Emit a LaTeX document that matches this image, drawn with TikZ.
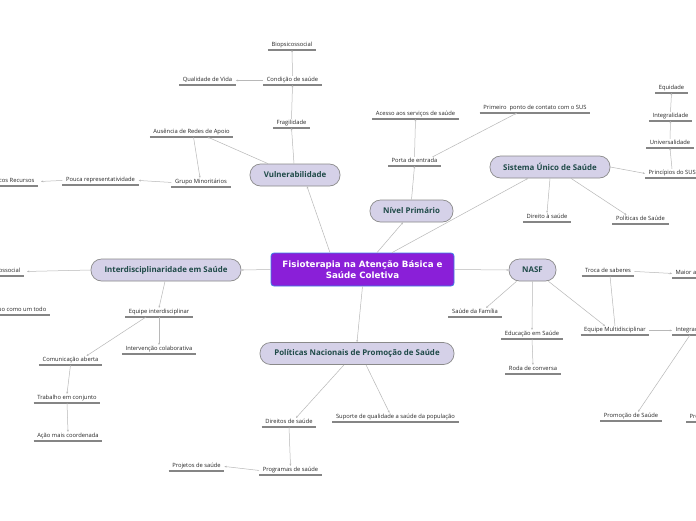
\documentclass[tikz,border=0pt]{standalone}
\usepackage{fontspec}
\setmainfont{Open Sans}
\newfontfamily\cenfont{DejaVu Sans}
\usetikzlibrary{arrows.meta}
\definecolor{cenfill}{HTML}{8A1FD8}
\definecolor{cenline}{HTML}{3D7FE6}
\definecolor{topfill}{HTML}{D5D1E8}
\definecolor{topline}{HTML}{8A8A8A}
\definecolor{toptext}{HTML}{1F4A48}
\definecolor{connc}{HTML}{B8B8B8}
\definecolor{ulc}{HTML}{858585}
\tikzset{
  central/.style={draw=cenline, line width=0.8pt, fill=cenfill, rounded corners=3pt,
    minimum width=183pt, minimum height=33pt, align=center, text=white,
    font=\cenfont\bfseries\fontsize{8.7}{11}\selectfont},
  topic/.style={draw=topline, line width=0.7pt, fill=topfill, rounded corners=10.5pt,
    minimum height=22pt, text=toptext, font=\bfseries\fontsize{7.9}{9}\selectfont, inner xsep=2pt},
  uline/.style={draw=ulc, line width=1.2pt},
  leaf/.style={font=\fontsize{5.8}{6.5}\selectfont, text=black!85, inner xsep=3.5pt, inner ysep=1.6pt,
    text height=4.2pt, text depth=1.3pt,
    append after command={(\tikzlastnode.south west) edge[uline] (\tikzlastnode.south east)}},
  conn/.style={draw=connc, line width=0.5pt, -{Stealth[length=2.2pt,width=1.8pt]}},
  plain/.style={draw=connc, line width=0.5pt}
}
\begin{document}
\begin{tikzpicture}[x=1pt, y=-1pt]
\useasboundingbox[fill=white] (0,0) rectangle (696,520);

% central
\node[central] (cen) at (362.5,269.5) {Fisioterapia na Atenção Básica e\\Saúde Coletiva};

% topics
\node[topic, minimum width=90pt] (vul) at (295,175) {Vulnerabilidade};
\node[topic, minimum width=83pt] (niv) at (411.5,211) {Nível Primário};
\node[topic, minimum width=120pt] (sus) at (550,167) {Sistema Único de Saúde};
\node[topic, minimum width=150pt] (int) at (166,270) {Interdisciplinaridade em Saúde};
\node[topic, minimum width=47pt] (nasf) at (532.5,270) {NASF};
\node[topic, minimum width=194pt] (pol) at (357,353.5) {Políticas Nacionais de Promoção de Saúde};

% Vulnerabilidade leaves
\node[leaf, anchor=south] (bio) at (292,50) {Biopsicossocial};
\node[leaf, anchor=south] (cond) at (292.5,85) {Condição de saúde};
\node[leaf, anchor=south] (qual) at (207.5,85) {Qualidade de Vida};
\node[leaf, anchor=south] (frag) at (291.5,128) {Fragilidade};
\node[leaf, anchor=south] (aus) at (191.5,137) {Ausência de Redes de Apoio};
\node[leaf, anchor=south] (grupo) at (201,187) {Grupo Minoritários};
\node[leaf, anchor=south] (pouca) at (100.5,185) {Pouca representatividade};
\node[leaf, anchor=south east] (rec) at (38,186) {Poucos Recursos};

% Nivel Primario leaves
\node[leaf, anchor=south] (porta) at (414.5,166) {Porta de entrada};
\node[leaf, anchor=south] (aces) at (415.5,119) {Acesso aos serviços de saúde};
\node[leaf, anchor=south] (prim) at (535,113) {Primeiro\ \ ponto de contato com o SUS};

% SUS leaves
\node[leaf, anchor=south] (dir) at (547,222) {Direito à saúde};
\node[leaf, anchor=south] (pols) at (640.5,224) {Políticas de Saúde};
\node[leaf, anchor=south west] (princ) at (645,178) {Princípios do SUS};
\node[leaf, anchor=south] (univ) at (670,148) {Universalidade};
\node[leaf, anchor=south] (integ) at (670.5,121) {Integralidade};
\node[leaf, anchor=south] (equi) at (671.5,93) {Equidade};

% Interdisciplinaridade leaves
\node[leaf, anchor=south east] (bio2) at (24,276) {Biopsicossocial};
\node[leaf, anchor=south east] (todo) at (50,315) {Visão do indivíduo como um todo};
\node[leaf, anchor=south] (eqi) at (159,317) {Equipe interdisciplinar};
\node[leaf, anchor=south] (interv) at (159,354) {Intervenção colaborativa};
\node[leaf, anchor=south] (comu) at (70.5,365) {Comunicação aberta};
\node[leaf, anchor=south] (trab) at (67,403) {Trabalho em conjunto};
\node[leaf, anchor=south] (acao) at (68,441) {Ação mais coordenada};

% NASF leaves
\node[leaf, anchor=south] (sfam) at (475,317) {Saúde da Família};
\node[leaf, anchor=south] (educ) at (532,339) {Educação em Saúde};
\node[leaf, anchor=south] (roda) at (533,374) {Roda de conversa};
\node[leaf, anchor=south] (eqm) at (615,335) {Equipe Multidisciplinar};
\node[leaf, anchor=south] (troca) at (608,276) {Troca de saberes};
\node[leaf, anchor=south west] (maior) at (672,278) {Maior aprendizado};
\node[leaf, anchor=south west] (integra) at (672,335) {Integração};
\node[leaf, anchor=south] (promo) at (631,421) {Promoção de Saúde};
\node[leaf, anchor=south west] (prev) at (686,422) {Prevenção};

% Politicas leaves
\node[leaf, anchor=south] (dirs) at (289,427) {Direitos de saúde};
\node[leaf, anchor=south] (sup) at (395.5,422) {Suporte de qualidade a saúde da população};
\node[leaf, anchor=south] (prog) at (290.5,475) {Programas de saúde};
\node[leaf, anchor=south] (proj) at (196.5,471) {Projetos de saúde};

% central connectors
\draw[conn] ([xshift=-32.5pt]cen.north) -- ([xshift=12pt]vul.south);
\draw[conn] ([xshift=14.5pt]cen.north) -- ([xshift=-8.5pt]niv.south);
\draw[conn] ([xshift=29.5pt]cen.north) -- ([xshift=-22pt]sus.south);
\draw[conn] (cen.west) -- (int.east);
\draw[conn] (cen.east) -- (nasf.west);
\draw[conn] (cen.south) -- (pol.north);

% Vulnerabilidade
\draw[conn] ([xshift=-1pt]vul.north) -- (frag.south);
\draw[conn] ([xshift=-27pt]vul.north) -- ([xshift=16pt]aus.south);
\draw[conn] ([xshift=2pt]aus.south) -- ([xshift=-1pt]grupo.north);
\draw[conn] (frag.north) -- (cond.south);
\draw[conn] (cond.north) -- (bio.south);
\draw[conn] (cond.west) -- (qual.east);
\draw[conn] (grupo.west) -- (pouca.east);
\draw[conn] (pouca.west) -- ([xshift=3pt]rec.east);

% Nivel
\draw[conn] (niv.north) -- (porta.south);
\draw[conn] (porta.north) -- (aces.south);
\draw[conn] ([xshift=18pt]porta.north) -- ([xshift=-18pt]prim.south);

% SUS
\draw[conn] (sus.south) -- (dir.north);
\draw[conn] ([xshift=21pt]sus.south) -- ([xshift=-14pt]pols.north);
\draw[conn] (sus.east) -- (princ.west);
\draw[conn] ([xshift=27pt]princ.north west) -- (univ.south);
\draw[conn] (univ.north) -- (integ.south);
\draw[conn] (integ.north) -- (equi.south);

% Interdisciplinaridade
\draw[conn] (int.west) -- ([xshift=3pt]bio2.east);
\draw[conn] ([xshift=-1pt]int.south) -- (eqi.north);
\draw[conn] (eqi.south) -- (interv.north);
\draw[conn] ([xshift=-13pt]eqi.south) -- ([xshift=16pt]comu.north);
\draw[conn] (comu.south) -- (trab.north);
\draw[conn] (trab.south) -- (acao.north);

% NASF
\draw[conn] ([xshift=-16pt]nasf.south) -- ([xshift=11pt]sfam.north);
\draw[conn] (nasf.south) -- (educ.north);
\draw[conn] (educ.south) -- (roda.north);
\draw[conn] ([xshift=16pt]nasf.south) -- ([xshift=-10pt]eqm.north);
\draw[plain] ([xshift=2pt]troca.south) -- (eqm.north);
\draw[conn] (troca.east) -- (maior.west);
\draw[conn] (eqm.east) -- (integra.west);
\draw[conn] ([xshift=18pt]integra.south west) -- ([xshift=7pt]promo.north);

% Politicas
\draw[conn] ([xshift=-13pt]pol.south) -- ([xshift=7pt]dirs.north);
\draw[conn] ([xshift=9pt]pol.south) -- ([xshift=-6pt]sup.north);
\draw[conn] (dirs.south) -- (prog.north);
\draw[conn] (prog.west) -- (proj.east);
\end{tikzpicture}
\end{document}
